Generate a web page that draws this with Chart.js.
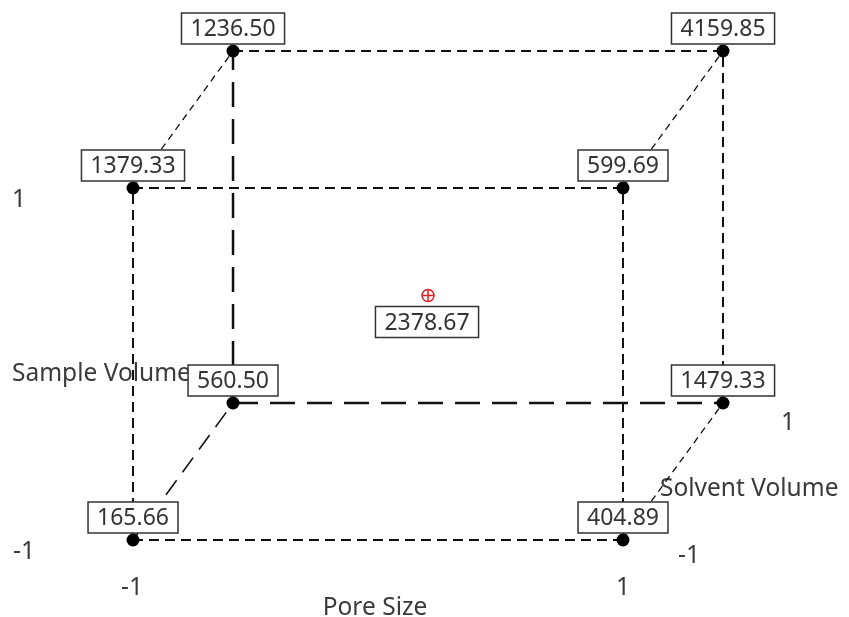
<!DOCTYPE html>
<html>
<head>
<meta charset="utf-8">
<script src="https://cdn.jsdelivr.net/npm/chart.js@4/dist/chart.umd.min.js"></script>
<style>
  html, body { margin: 0; padding: 0; background: #ffffff; }
  #wrap { width: 849px; height: 617px; }
</style>
</head>
<body>
<div id="wrap"><canvas id="cube" width="849" height="617"></canvas></div>
<script>
// Two-level factorial design: corner runs of the cube plot
const poreSize      = [-1,  1, -1,  1, -1,  1, -1,  1];
const sampleVolume  = [-1, -1,  1,  1, -1, -1,  1,  1];
const solventVolume = [-1, -1, -1, -1,  1,  1,  1,  1];
const response      = [165.66, 404.89, 1379.33, 599.69, 560.50, 1479.33, 1236.50, 4159.85];

// Centre point run
const centerLevels   = [0, 0, 0];
const centerResponse = [2378.67];

// Axis texts
const factorNames = ['Pore Size', 'Sample Volume', 'Solvent Volume'];
const levelLabels = ['-1', '1'];

// Oblique projection of the third factor onto the plane
const DEPTH_X = 0.2041;
const DEPTH_Y = 0.3892;
const project = (a, b, c) => ({ x: a + DEPTH_X * (c + 1), y: b + DEPTH_Y * (c + 1) });

const corners = poreSize.map((p, i) => project(p, sampleVolume[i], solventVolume[i]));
const centre  = project(centerLevels[0], centerLevels[1], centerLevels[2]);

// Cube edges: pairs of runs that differ in exactly one factor
const edges = [];
for (let i = 0; i < 8; i++) {
  for (let j = i + 1; j < 8; j++) {
    const diff = (poreSize[i] !== poreSize[j]) + (sampleVolume[i] !== sampleVolume[j]) + (solventVolume[i] !== solventVolume[j]);
    if (diff === 1) edges.push([i, j]);
  }
}
// The corner hidden behind the front face
const hiddenCorner = 4;

const edgeSets = edges.map(([i, j]) => {
  const hidden = i === hiddenCorner || j === hiddenCorner;
  const depth = solventVolume[i] !== solventVolume[j];
  return {
    type: 'scatter',
    data: [corners[i], corners[j]],
    showLine: true,
    pointRadius: 0,
    borderColor: '#111111',
    borderWidth: hidden ? (depth ? 1.6 : 2.5) : (depth ? 1.3 : 2),
    borderDash: hidden ? (depth ? [18, 10] : [25, 12]) : (depth ? [7, 5] : [10, 6]),
    order: 3
  };
});

const FONT = '"Noto Sans", "Open Sans", sans-serif';

const textPlugin = {
  id: 'cubeTexts',
  beforeDatasetsDraw(chart) {
    const { ctx, scales: { x, y } } = chart;
    const px = v => x.getPixelForValue(v);
    const py = v => y.getPixelForValue(v);
    ctx.save();
    ctx.fillStyle = '#3a3a3a';
    ctx.font = '24.5px ' + FONT;
    ctx.textBaseline = 'middle';
    ctx.textAlign = 'center';
    const fl = corners[0], fr = corners[1], ftl = corners[2], br = corners[5];
    // Pore Size levels and title
    ctx.fillText(levelLabels[0], px(fl.x) - 1, py(fl.y) + 48);
    ctx.fillText(levelLabels[1], px(fr.x), py(fr.y) + 48);
    ctx.fillText(factorNames[0], (px(fl.x) + px(fr.x)) / 2 - 3, py(fl.y) + 68);
    // Sample Volume levels and title
    ctx.fillText(levelLabels[1], 19, py(ftl.y) + 12);
    ctx.fillText(levelLabels[0], 24, py(fl.y) + 12);
    ctx.textAlign = 'left';
    ctx.fillText(factorNames[1], 12, (py(ftl.y) + py(fl.y)) / 2 + 10);
    // Solvent Volume levels and title
    ctx.textAlign = 'center';
    ctx.fillText(levelLabels[0], px(fr.x) + 66, py(fr.y) + 16);
    ctx.fillText(levelLabels[1], px(br.x) + 65, py(br.y) + 20);
    ctx.textAlign = 'left';
    ctx.fillText(factorNames[2], px(fr.x) + 37, (py(fr.y) + py(br.y)) / 2 + 18);
    ctx.restore();
  },
  afterDatasetsDraw(chart) {
    const { ctx, scales: { x, y } } = chart;
    ctx.save();
    ctx.font = '23px ' + FONT;
    ctx.textAlign = 'center';
    ctx.textBaseline = 'middle';
    const box = (cx, top, txt) => {
      const w = ctx.measureText(txt).width + 18;
      const h = 31;
      ctx.fillStyle = '#ffffff';
      ctx.fillRect(cx - w / 2, top, w, h);
      ctx.strokeStyle = '#333333';
      ctx.lineWidth = 1.5;
      ctx.strokeRect(cx - w / 2, top, w, h);
      ctx.fillStyle = '#333333';
      ctx.fillText(txt, cx, top + h / 2 + 1);
    };
    corners.forEach((c, i) => {
      box(x.getPixelForValue(c.x), y.getPixelForValue(c.y) - 38, response[i].toFixed(2));
    });
    box(x.getPixelForValue(centre.x) - 1, y.getPixelForValue(centre.y) + 11, centerResponse[0].toFixed(2));
    ctx.restore();
  }
};

new Chart(document.getElementById('cube'), {
  type: 'scatter',
  data: {
    datasets: [
      {
        data: corners,
        pointRadius: 6.5,
        pointBackgroundColor: '#000000',
        pointBorderWidth: 0,
        order: 0
      },
      {
        data: [centre],
        pointStyle: 'circle',
        pointRadius: 6,
        pointBackgroundColor: 'rgba(255,255,255,0)',
        pointBorderColor: '#e02020',
        pointBorderWidth: 1.5,
        order: 1
      },
      {
        data: [centre],
        pointStyle: 'cross',
        pointRadius: 6,
        pointBorderColor: '#e02020',
        pointBorderWidth: 1.5,
        order: 1
      },
      ...edgeSets
    ]
  },
  options: {
    responsive: false,
    animation: false,
    layout: { padding: 0, autoPadding: false },
    plugins: { legend: { display: false }, tooltip: { enabled: false } },
    events: [],
    scales: {
      x: { type: 'linear', display: false, min: -1.5429, max: 1.9224 },
      y: { type: 'linear', display: false, min: -1.4375, max: 2.0682 }
    }
  },
  plugins: [textPlugin]
});
</script>
</body>
</html>
